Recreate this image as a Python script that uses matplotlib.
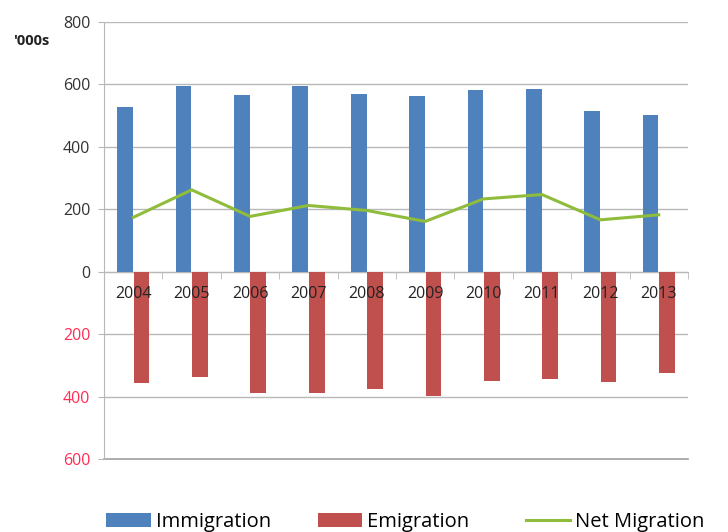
import numpy as np
import matplotlib.pyplot as plt
from matplotlib.ticker import FixedLocator

plt.rcParams['font.family'] = ['Open Sans', 'DejaVu Sans']

# Values in thousands
years = ['2004', '2005', '2006', '2007', '2008', '2009', '2010', '2011', '2012', '2013']
immigration = [527, 596, 566, 596, 570, 562, 582, 586, 516, 502]
emigration = [356, 337, 388, 388, 375, 397, 349, 344, 353, 323]
net_migration = [174, 262, 177, 212, 196, 161, 233, 247, 166, 182]

ytick_vals = [-600, -400, -200, 0, 200, 400, 600, 800]
ytick_text = ['600', '400', '200', '0', '200', '400', '600', '800']

blue = '#4f81bd'
red = '#c0504d'
green = '#8fbc3a'
grid_col = '#b8b8b8'

fig = plt.figure(figsize=(7.28, 5.32), dpi=100)
ax = fig.add_axes([0.143, 0.137, 0.802, 0.822])

x = np.arange(len(years))
bw = 0.27
h1 = ax.bar(x - bw / 2 - 0.005, immigration, width=bw, color=blue, label='Immigration', zorder=3)
h2 = ax.bar(x + bw / 2 + 0.005, [-v for v in emigration], width=bw, color=red, label='Emigration', zorder=3)
h3, = ax.plot(x, net_migration, color=green, lw=2.2, label='Net Migration', zorder=4)

ax.set_xlim(-0.5, len(years) - 0.5)
ax.set_ylim(-600, 800)
ax.set_yticks(ytick_vals)
ax.set_yticklabels(ytick_text, fontsize=11.5, color='#333333')
for lbl, v in zip(ax.get_yticklabels(), ytick_vals):
    if v < 0:
        lbl.set_color('#ff2d55')
ax.grid(axis='y', color=grid_col, lw=1, zorder=0)
ax.axhline(-600, color='#a0a0a0', lw=1.2, clip_on=False, zorder=1)
ax.tick_params(axis='y', length=4, color=grid_col, pad=6)

# category axis sits at zero
for s in ['top', 'right']:
    ax.spines[s].set_visible(False)
ax.spines['left'].set_color(grid_col)
ax.spines['bottom'].set_position(('data', 0))
ax.spines['bottom'].set_color(grid_col)
ax.spines['bottom'].set_zorder(2)
ax.set_xticks(x)
ax.set_xticklabels([])
ax.tick_params(axis='x', which='major', length=0)
ax.xaxis.set_minor_locator(FixedLocator(np.arange(-0.5, len(years) + 0.5, 1)))
ax.tick_params(axis='x', which='minor', length=5, color=grid_col)

# year labels drawn over the emigration bars
for xi, yr in zip(x, years):
    ax.annotate(yr, (xi, 0), xytext=(0, -10), textcoords='offset points',
                ha='center', va='top', fontsize=11.5, color='#222222', zorder=10)

fig.text(0.018, 0.915, "'000s", fontsize=10.5, fontweight='bold', color='#222222')

# legend entries spread along the bottom edge, one legend per entry
for h, lx in zip([h1, h2, h3], [0.146, 0.437, 0.722]):
    fig.legend(handles=[h], loc='center left', bbox_to_anchor=(lx, 0.019),
               frameon=False, fontsize=14.5, handlelength=2.2, handletextpad=0.25,
               handleheight=0.65, borderpad=0, borderaxespad=0)

fig.savefig('out.png', dpi=100)
